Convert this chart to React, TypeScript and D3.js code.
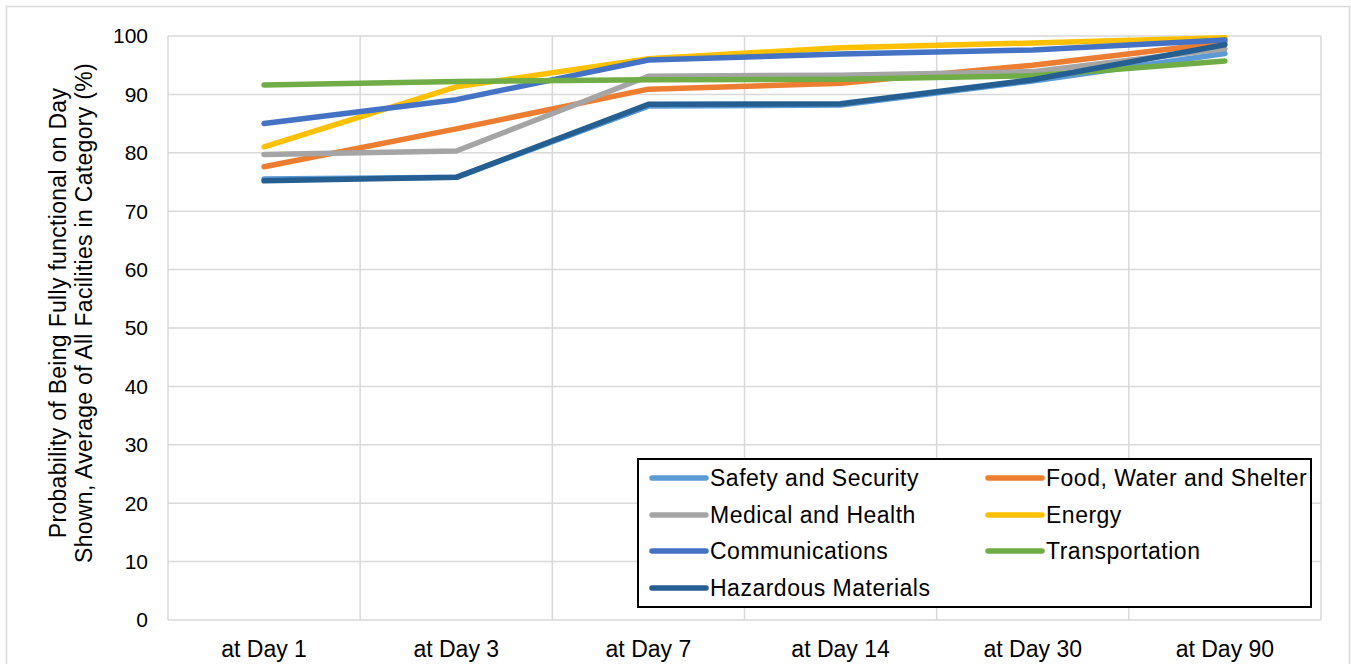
import { useEffect, useRef } from "react";
import * as d3 from "d3";

const days = ["at Day 1", "at Day 3", "at Day 7", "at Day 14", "at Day 30", "at Day 90"];
const yTicks = [0, 10, 20, 30, 40, 50, 60, 70, 80, 90, 100];

const safety = [75.5, 75.8, 88.0, 88.2, 92.3, 97.0];
const food = [77.6, 84.1, 90.9, 91.9, 95.0, 98.9];
const medical = [79.7, 80.3, 93.1, 93.3, 93.9, 97.8];
const energy = [81.0, 91.3, 96.1, 98.0, 98.8, 99.7];
const communications = [85.0, 89.1, 95.9, 96.9, 97.6, 99.3];
const transportation = [91.6, 92.2, 92.5, 92.6, 93.2, 95.7];
const hazardous = [75.2, 75.8, 88.3, 88.4, 92.5, 98.5];

interface Series {
  name: string;
  color: string;
  values: number[];
}

const series: Series[] = [
  { name: "Safety and Security", color: "#5B9BD5", values: safety },
  { name: "Food, Water and Shelter", color: "#ED7D31", values: food },
  { name: "Medical and Health", color: "#A5A5A5", values: medical },
  { name: "Energy", color: "#FFC000", values: energy },
  { name: "Communications", color: "#4472C4", values: communications },
  { name: "Transportation", color: "#70AD47", values: transportation },
  { name: "Hazardous Materials", color: "#255E91", values: hazardous },
];

const W = 1351;
const H = 664;
const FONT = "'Liberation Sans', Arial, sans-serif";

export default function App() {
  const svgRef = useRef<SVGSVGElement>(null);

  useEffect(() => {
    if (!svgRef.current) return;
    const svg = d3.select(svgRef.current);
    svg.selectAll("*").remove();

    const plot = { left: 168, right: 1321, top: 36, bottom: 620 };
    const grid = "#D9D9D9";

    // outer chart frame
    svg
      .append("rect")
      .attr("x", 6.5)
      .attr("y", 6.5)
      .attr("width", 1343)
      .attr("height", H)
      .attr("fill", "#fff")
      .attr("stroke", grid)
      .attr("stroke-width", 1.5);

    const band = d3.scaleBand().domain(days).range([plot.left, plot.right]);
    const x = d3.scalePoint().domain(days).range([plot.left, plot.right]).padding(0.5);
    const y = d3.scaleLinear().domain([0, 100]).range([plot.bottom, plot.top]);

    // horizontal gridlines
    svg
      .append("g")
      .selectAll("line")
      .data(yTicks)
      .join("line")
      .attr("x1", plot.left)
      .attr("x2", plot.right)
      .attr("y1", (d) => y(d))
      .attr("y2", (d) => y(d))
      .attr("stroke", grid)
      .attr("stroke-width", 1.5);

    // vertical gridlines at category boundaries
    const bounds = [...days.map((d) => band(d) ?? 0), plot.right];
    svg
      .append("g")
      .selectAll("line")
      .data(bounds)
      .join("line")
      .attr("x1", (d) => d)
      .attr("x2", (d) => d)
      .attr("y1", plot.top)
      .attr("y2", plot.bottom)
      .attr("stroke", grid)
      .attr("stroke-width", 1.5);

    // y tick labels
    svg
      .append("g")
      .selectAll("text")
      .data(yTicks)
      .join("text")
      .attr("x", 148)
      .attr("y", (d) => y(d))
      .attr("dy", "0.35em")
      .attr("text-anchor", "end")
      .style("font-family", FONT)
      .style("font-size", "21px")
      .attr("fill", "#000")
      .text((d) => d);

    // x tick labels
    svg
      .append("g")
      .selectAll("text")
      .data(days)
      .join("text")
      .attr("x", (d) => x(d) ?? 0)
      .attr("y", 649)
      .attr("dy", "0.35em")
      .attr("text-anchor", "middle")
      .style("font-family", FONT)
      .style("font-size", "23px")
      .attr("fill", "#000")
      .text((d) => d);

    // y axis title
    const title = svg
      .append("text")
      .attr("transform", `translate(0,313) rotate(-90)`)
      .attr("text-anchor", "middle")
      .style("font-family", FONT)
      .style("font-size", "23px")
      .style("letter-spacing", "0.3px")
      .attr("fill", "#000");
    title.append("tspan").attr("x", 0).attr("y", 66).text("Probability of Being Fully functional on Day");
    title.append("tspan").attr("x", 0).attr("y", 92).text("Shown, Average of All Facilities in Category (%)");

    const line = d3
      .line<number>()
      .x((_, i) => x(days[i]) ?? 0)
      .y((d) => y(d));

    svg
      .append("g")
      .selectAll("path")
      .data(series)
      .join("path")
      .attr("d", (d) => line(d.values))
      .attr("fill", "none")
      .attr("stroke", (d) => d.color)
      .attr("stroke-width", 5.5)
      .attr("stroke-linecap", "round")
      .attr("stroke-linejoin", "round");

    // legend
    const lg = svg.append("g");
    lg.append("rect")
      .attr("x", 638)
      .attr("y", 459)
      .attr("width", 673)
      .attr("height", 148)
      .attr("fill", "#fff")
      .attr("stroke", "#000")
      .attr("stroke-width", 2);

    const colX = [652, 988];
    const rowY = [478, 515, 551, 588];
    series.forEach((s, i) => {
      const cx = colX[i % 2];
      const cy = rowY[Math.floor(i / 2)];
      lg.append("line")
        .attr("x1", cx)
        .attr("x2", cx + 54)
        .attr("y1", cy)
        .attr("y2", cy)
        .attr("stroke", s.color)
        .attr("stroke-width", 5.5)
        .attr("stroke-linecap", "round");
      lg.append("text")
        .attr("x", cx + 58)
        .attr("y", cy)
        .attr("dy", "0.35em")
        .style("font-family", FONT)
        .style("font-size", "23px")
        .style("letter-spacing", "0.5px")
        .attr("fill", "#000")
        .text(s.name);
    });
  }, []);

  return (
    <svg
      ref={svgRef}
      width={W}
      height={H}
      style={{ position: "absolute", left: 0, top: 0, background: "#fff" }}
    />
  );
}
